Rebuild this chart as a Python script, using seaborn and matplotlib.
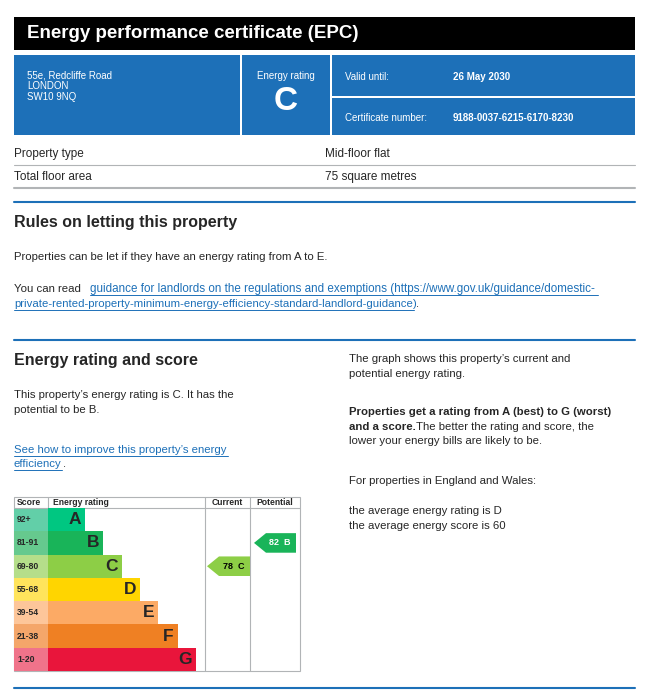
import matplotlib
matplotlib.use("Agg")
import seaborn as sns
import matplotlib.pyplot as plt
from matplotlib.patches import Rectangle, Polygon
import pandas as pd

ratings = ["A", "B", "C", "D", "E", "F", "G"]
bands = ["92+", "81-91", "69-80", "55-68", "39-54", "21-38", "1-20"]
bar_len = [37, 55, 74, 92, 110, 130, 148]
bar_colors = ["#00c781", "#19b459", "#8dce46", "#ffd500", "#fcaa65", "#ef8023", "#e9153b"]
band_colors = ["#62cfa8", "#66c98e", "#b5de8a", "#ffe45c", "#fdc69a", "#f4a66a", "#f0738a"]
current = (78, "C")
potential = (82, "B")

sns.set_theme(style="white")
plt.rcParams["font.family"] = ["Liberation Sans", "DejaVu Sans"]

fig = plt.figure(figsize=(6.46, 6.99), dpi=100)
ax = fig.add_axes([0, 0, 1, 1])
ax.set_xlim(0, 646)
ax.set_ylim(699, 0)
ax.axis("off")

BLUE = "#1d70b8"
def rect(x0, y0, x1, y1, c, **kw):
    ax.add_patch(Rectangle((x0, y0), x1 - x0, y1 - y0, color=c, lw=0, **kw))

# header
rect(14, 17, 635, 50, "black")
ax.text(27, 34, "Energy performance certificate (EPC)", color="white", fontsize=13.5,
        fontweight="bold", va="center")
rect(14, 55, 240, 135, BLUE)
rect(242, 55, 330, 135, BLUE)
rect(332, 55, 635, 96, BLUE)
rect(332, 98, 635, 135, BLUE)
for i, t in enumerate(["55e, Redcliffe Road", "LONDON", "SW10 9NQ"]):
    ax.text(27, 75 + i * 11, t, color="white", fontsize=7, va="center")
ax.text(286, 76, "Energy rating", color="white", fontsize=7, ha="center", va="center")
ax.text(286, 102, "C", color="white", fontsize=24, fontweight="bold", ha="center", va="center")
ax.text(345, 77, "Valid until:", color="white", fontsize=7, va="center")
ax.text(453, 77, "26 May 2030", color="white", fontsize=7, fontweight="bold", va="center")
ax.text(345, 118, "Certificate number:", color="white", fontsize=7, va="center")
ax.text(453, 118, "9188-0037-6215-6170-8230", color="white", fontsize=7, fontweight="bold", va="center")

# property rows
ax.text(14, 154, "Property type", fontsize=8.5, va="center")
ax.text(325, 154, "Mid-floor flat", fontsize=8.5, va="center")
ax.plot([14, 635], [165, 165], color="#b1b4b6", lw=0.8)
ax.text(14, 177, "Total floor area", fontsize=8.5, va="center")
ax.text(325, 177, "75 square metres", fontsize=8.5, va="center")
ax.plot([14, 635], [188, 188], color="#b1b4b6", lw=1.5)
ax.plot([14, 635], [202, 202], color=BLUE, lw=1.5)

# rules section
ax.text(14, 222, "Rules on letting this property", fontsize=11.5, fontweight="bold", va="center")
ax.text(14, 257, "Properties can be let if they have an energy rating from A to E.", fontsize=8.2, va="center")
ax.text(14, 289, "You can read", fontsize=8.2, va="center")
ax.text(90, 289, "guidance for landlords on the regulations and exemptions (https://www.gov.uk/guidance/domestic-",
        fontsize=8.4, va="center", color=BLUE)
ax.text(14, 304, "private-rented-property-minimum-energy-efficiency-standard-landlord-guidance)",
        fontsize=8.2, va="center", color=BLUE)
ax.text(416, 304, ".", fontsize=8.2, va="center")
ax.plot([90, 598], [295, 295], color=BLUE, lw=0.7)
ax.plot([14, 414], [310, 310], color=BLUE, lw=0.7)
ax.plot([14, 635], [340, 340], color=BLUE, lw=1.5)

# rating section
ax.text(14, 360, "Energy rating and score", fontsize=11.5, fontweight="bold", va="center")
ax.text(14, 395, "This property\u2019s energy rating is C. It has the", fontsize=8.2, va="center")
ax.text(14, 410, "potential to be B.", fontsize=8.2, va="center")
ax.text(14, 450, "See how to improve this property\u2019s energy", fontsize=8.2, va="center", color=BLUE)
ax.text(14, 464, "efficiency", fontsize=8.2, va="center", color=BLUE)
ax.text(63, 464, ".", fontsize=8.2, va="center")
ax.plot([14, 228], [456, 456], color=BLUE, lw=0.7)
ax.plot([14, 62], [470, 470], color=BLUE, lw=0.7)

rx = 349
ax.text(rx, 359, "The graph shows this property\u2019s current and", fontsize=8.2, va="center")
ax.text(rx, 374, "potential energy rating.", fontsize=8.2, va="center")
ax.text(rx, 412, "Properties get a rating from A (best) to G (worst)", fontsize=8.2, va="center", fontweight="bold")
ax.text(rx, 427, "and a score.", fontsize=8.2, va="center", fontweight="bold")
ax.text(rx + 67, 427, "The better the rating and score, the", fontsize=8.2, va="center")
ax.text(rx, 441, "lower your energy bills are likely to be.", fontsize=8.2, va="center")
ax.text(rx, 481, "For properties in England and Wales:", fontsize=8.2, va="center")
ax.text(rx, 511, "the average energy rating is D", fontsize=8.2, va="center")
ax.text(rx, 526, "the average energy score is 60", fontsize=8.2, va="center")
ax.plot([14, 635], [688, 688], color=BLUE, lw=1.5)

# chart frame and header
ax.add_patch(Rectangle((14, 497), 286, 174, fill=False, ec="#b1b4b6", lw=0.8))
ax.plot([14, 300], [508, 508], color="#b1b4b6", lw=0.8)
for xv in [48, 205, 250]:
    ax.plot([xv, xv], [497, 508] if xv == 48 else [497, 671], color="#b1b4b6", lw=0.8)
ax.text(17, 502.5, "Score", fontsize=6.2, fontweight="bold", va="center")
ax.text(53, 502.5, "Energy rating", fontsize=6.2, fontweight="bold", va="center")
ax.text(227, 502.5, "Current", fontsize=6.2, fontweight="bold", va="center", ha="center")
ax.text(275, 502.5, "Potential", fontsize=6.2, fontweight="bold", va="center", ha="center")

row_h = (671 - 508) / 7
for i, (b, c) in enumerate(zip(bands, band_colors)):
    rect(14, 508 + i * row_h, 48, 508 + (i + 1) * row_h, c)
    ax.text(17, 508 + (i + 0.5) * row_h, b, fontsize=6.2, fontweight="bold", va="center")

# bars via seaborn in an inset spanning the rating columns
bx = fig.add_axes([48 / 646, 1 - 671 / 699, 252 / 646, (671 - 508) / 699])
df = pd.DataFrame({"rating": ratings, "len": bar_len})
sns.barplot(data=df, x="len", y="rating", hue="rating", palette=bar_colors,
            width=1.0, legend=False, ax=bx, linewidth=0, saturation=1)
bx.set_xlim(0, 252)
bx.set_ylim(6.5, -0.5)
bx.axis("off")
bx.patch.set_alpha(0)
for i, (r, L) in enumerate(zip(ratings, bar_len)):
    bx.text(L - 4, i, r, fontsize=12.5, fontweight="bold", ha="right", va="center")

def arrow(score, letter, x0, x1):
    i = ratings.index(letter)
    c = bar_colors[i]
    h = 0.42
    bx.add_patch(Polygon([(x0, i), (x0 + 12, i - h), (x1, i - h), (x1, i + h), (x0 + 12, i + h)],
                         closed=True, color=c, lw=0))
    bx.text((x0 + x1) / 2 + 5, i, f"{score}  {letter}", fontsize=6.5, fontweight="bold",
            ha="center", va="center", color="black" if letter == "C" else "white")

arrow(current[0], current[1], 159, 202)
arrow(potential[0], potential[1], 206, 248)

fig.savefig("out.png", dpi=100)
